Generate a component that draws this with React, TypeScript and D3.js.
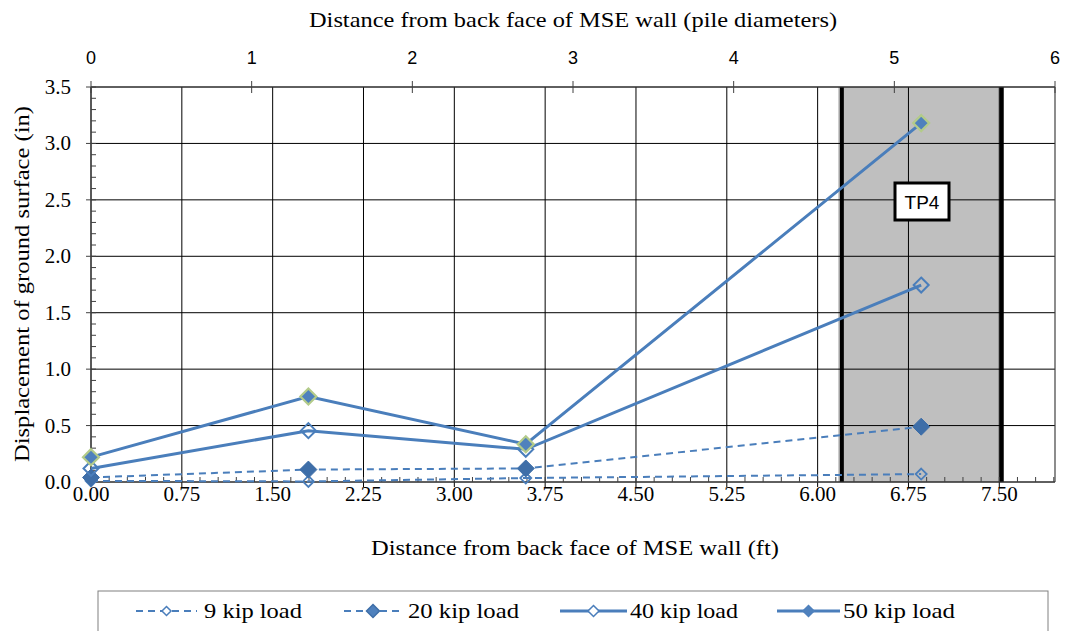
import React from "react";
import * as d3 from "d3";

const xFt = [0, 1.795, 3.59, 6.855];
const kip9 = [0.01, 0.005, 0.035, 0.07];
const kip20 = [0.04, 0.11, 0.12, 0.49];
const kip40 = [0.12, 0.455, 0.29, 1.745];
const kip50 = [0.22, 0.757, 0.335, 3.18];
const seriesNames = ["9 kip load", "20 kip load", "40 kip load", "50 kip load"];
const bottomTicks = [0, 0.75, 1.5, 2.25, 3.0, 3.75, 4.5, 5.25, 6.0, 6.75, 7.5];
const leftTicks = [0, 0.5, 1.0, 1.5, 2.0, 2.5, 3.0, 3.5];
const topTicks = [0, 1, 2, 3, 4, 5, 6];
const pileBand = [6.2, 7.52];
const pileLabel = "TP4";

const W = 1067, H = 631;
const L = 91, R = 1055, T = 87, B = 482;
const BLUE = "#4A7EBB";

const x = d3.scaleLinear().domain([0, 7.96]).range([L, R]);
const xTop = d3.scaleLinear().domain([0, 6]).range([L, R]);
const y = d3.scaleLinear().domain([0, 3.5]).range([B, T]);

const diamond = (r: number) => `M0,${-r}L${r},0L0,${r}L${-r},0Z`;

type Style = { dash?: string; width: number; marker: { r: number; fill: string; stroke: string; sw: number } };
const styles: Style[] = [
  { dash: "7,5", width: 2, marker: { r: 5.5, fill: "none", stroke: BLUE, sw: 1.8 } },
  { dash: "7,5", width: 2, marker: { r: 8.5, fill: "#3E6EA8", stroke: "#3E6EA8", sw: 1 } },
  { width: 3, marker: { r: 7.5, fill: "none", stroke: BLUE, sw: 2 } },
  { width: 3, marker: { r: 8, fill: "#4F81BD", stroke: "#B3CB8A", sw: 2.2 } },
];
const seriesData = [kip9, kip20, kip40, kip50];

const serifStyle = { fontFamily: "Liberation Serif" };
const sansStyle = { fontFamily: "Liberation Sans" };

export default function App() {
  const line = d3
    .line<number>()
    .x((_, i) => x(xFt[i]))
    .y((d) => y(d));

  const minorX: number[] = [];
  for (let i = 0; i * 0.15 <= 7.96; i++) minorX.push(i * 0.15);
  const minorY: number[] = [];
  for (let i = 0; i <= 35; i++) minorY.push(i * 0.1);

  const legendItems = [
    { x1: 136, x2: 197, tx: 204, tw: 98 },
    { x1: 344, x2: 402, tx: 408, tw: 111 },
    { x1: 560, x2: 627, tx: 630, tw: 108 },
    { x1: 777, x2: 840, tx: 843, tw: 112 },
  ];

  return (
    <svg width={W} height={H} style={{ position: "absolute", left: 0, top: 0 }}>
      <rect x={0} y={0} width={W} height={H} fill="#fff" />
      <rect x={x(6.17)} y={T} width={x(7.535) - x(6.17)} height={B - T} fill="#BFBFBF" />
      {leftTicks.map((v) => (
        <line key={"gy" + v} x1={L} x2={R} y1={y(v)} y2={y(v)} stroke="#000" strokeWidth={1} />
      ))}
      {bottomTicks.map((v) => (
        <line key={"gx" + v} x1={x(v)} x2={x(v)} y1={T} y2={B + 5} stroke="#000" strokeWidth={1} />
      ))}
      {pileBand.map((v) => (
        <line key={"pb" + v} x1={x(v)} x2={x(v)} y1={T} y2={B} stroke="#000" strokeWidth={4} />
      ))}
      <line x1={L} x2={L} y1={T} y2={B} stroke="#404040" strokeWidth={1.2} />
      <line x1={R} x2={R} y1={T} y2={B} stroke="#404040" strokeWidth={1.2} />
      <line x1={L} x2={R} y1={B} y2={B} stroke="#404040" strokeWidth={1.2} />
      <line x1={L} x2={R} y1={T} y2={T} stroke="#404040" strokeWidth={1.2} />
      {leftTicks.map((v) => (
        <line key={"ly" + v} x1={L - 5} x2={L} y1={y(v)} y2={y(v)} stroke="#404040" />
      ))}
      {minorY.map((v) => (
        <line key={"my" + v} x1={L} x2={L + 5} y1={y(v)} y2={y(v)} stroke="#404040" />
      ))}
      {minorX.map((v) => (
        <line key={"mx" + v} x1={x(v)} x2={x(v)} y1={B} y2={B - 5} stroke="#404040" />
      ))}
      {topTicks.map((v) => (
        <line key={"tt" + v} x1={xTop(v)} x2={xTop(v)} y1={T - 6} y2={T + 6} stroke="#404040" />
      ))}
      {bottomTicks.map((v) => (
        <text key={"bl" + v} x={x(v)} y={501} textAnchor="middle" style={serifStyle} fontSize={21}>
          {v.toFixed(2)}
        </text>
      ))}
      {leftTicks.map((v) => (
        <text key={"ll" + v} x={71} y={y(v) + 7} textAnchor="end" style={serifStyle} fontSize={21}>
          {v.toFixed(1)}
        </text>
      ))}
      {topTicks.map((v) => (
        <text key={"tl" + v} x={xTop(v)} y={64} textAnchor="middle" style={sansStyle} fontSize={18}>
          {v}
        </text>
      ))}
      <text x={573} y={27} textAnchor="middle" style={serifStyle} fontSize={22} textLength={528} lengthAdjust="spacingAndGlyphs">
        Distance from back face of MSE wall (pile diameters)
      </text>
      <text x={575} y={555} textAnchor="middle" style={serifStyle} fontSize={22} textLength={408} lengthAdjust="spacingAndGlyphs">
        Distance from back face of MSE wall (ft)
      </text>
      <text
        transform={`translate(29, 284) rotate(-90)`}
        textAnchor="middle"
        style={serifStyle}
        fontSize={22}
        textLength={356}
        lengthAdjust="spacingAndGlyphs"
      >
        Displacement of ground surface (in)
      </text>
      {seriesData.map((d, si) => (
        <path
          key={"s" + si}
          d={line(d) || ""}
          fill="none"
          stroke={BLUE}
          strokeWidth={styles[si].width}
          strokeDasharray={styles[si].dash}
        />
      ))}
      {seriesData.map((d, si) =>
        d.map((v, i) => (
          <path
            key={"m" + si + "-" + i}
            d={diamond(styles[si].marker.r)}
            transform={`translate(${x(xFt[i])},${y(v)})`}
            fill={styles[si].marker.fill}
            stroke={styles[si].marker.stroke}
            strokeWidth={styles[si].marker.sw}
          />
        ))
      )}
      <rect x={895} y={183} width={54} height={37} fill="#fff" stroke="#000" strokeWidth={3} />
      <text x={922} y={209} textAnchor="middle" style={sansStyle} fontSize={19}>
        {pileLabel}
      </text>
      <rect x={98} y={591} width={950} height={60} fill="#fff" stroke="#808080" strokeWidth={1} />
      {legendItems.map((it, si) => {
        const cy = 611;
        const st = styles[si];
        const mr = si === 0 ? 4.5 : si === 1 ? 6.5 : 5.5;
        return (
          <g key={"lg" + si}>
            <line x1={it.x1} x2={it.x2} y1={cy} y2={cy} stroke={BLUE} strokeWidth={st.width} strokeDasharray={st.dash} />
            <path
              d={diamond(mr)}
              transform={`translate(${(it.x1 + it.x2) / 2},${cy})`}
              fill={si === 0 || si === 2 ? "#fff" : "#4F81BD"}
              stroke={si === 3 ? "#4F81BD" : st.marker.stroke}
              strokeWidth={1.5}
            />
            <text x={it.tx} y={cy + 7} style={serifStyle} fontSize={22} textLength={it.tw} lengthAdjust="spacingAndGlyphs">
              {seriesNames[si]}
            </text>
          </g>
        );
      })}
    </svg>
  );
}
